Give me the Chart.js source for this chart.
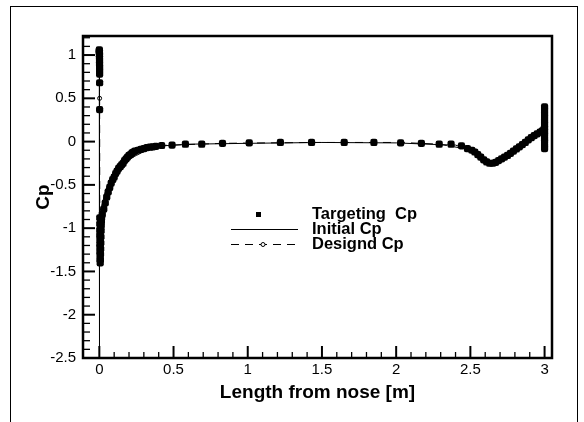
<!DOCTYPE html>
<html>
<head>
<meta charset="utf-8">
<script src="https://cdn.jsdelivr.net/npm/chart.js@4.4.1/dist/chart.umd.min.js"></script>
<style>
html,body{margin:0;padding:0;background:#fff;overflow:hidden}
#wrap{position:relative;width:584px;height:422px}
#frame{position:absolute;left:10px;top:6px;width:568px;height:440px;border:1.5px solid #000;box-sizing:border-box}
canvas{position:absolute;left:0;top:0}
</style>
</head>
<body>
<div id="wrap"><div id="frame"></div><canvas id="cpChart" width="584" height="422"></canvas></div>
<script>
// tick labels
const xTicks = [0, 0.5, 1, 1.5, 2, 2.5, 3];
const yTicks = [-2.5, -2, -1.5, -1, -0.5, 0, 0.5, 1];

// Targeting Cp (square markers)
const targetX = [
0.000,0.000,0.0005,0.0005,0.001,0.001,0.001,0.0015,0.0015,0.002,0.002,0.002,0.002,0.002,
0.003,0.003,0.003,0.003,0.004,0.004,0.004,0.004,0.005,0.005,0.006,0.007,0.008,0.009,0.010,0.011,0.012,0.013,0.014,0.015,
0.02,0.03,0.04,0.05,0.06,0.07,0.08,0.09,0.10,0.11,0.12,0.13,0.14,0.15,0.16,0.17,0.18,0.19,0.20,0.21,0.22,0.23,0.24,0.26,0.28,0.30,0.32,0.34,0.36,0.38,
0.42,0.49,0.58,0.69,0.83,1.01,1.22,1.43,1.65,1.85,2.03,2.17,2.29,
2.37,2.44,2.48,2.51,2.53,2.55,2.57,2.59,2.61,2.63,2.65,2.67,2.69,2.71,2.73,2.75,2.77,2.79,2.81,2.83,2.85,2.87,2.89,2.91,2.93,2.95,2.97,2.985,2.995,
3.0,3.0,3.0,3.0,3.0,3.0,3.0,3.0,3.0,3.0,3.0,3.0,3.0
];
const targetCp = [
1.06,1.05,1.04,1.03,1.02,1.00,0.97,0.94,0.90,0.86,0.82,0.78,0.68,0.37,
-0.88,-0.95,-1.02,-1.08,-1.13,-1.18,-1.22,-1.27,-1.31,-1.36,-1.40,-1.36,-1.30,-1.24,-1.17,-1.10,-1.03,-0.97,-0.92,-0.88,
-0.84,-0.78,-0.71,-0.64,-0.58,-0.53,-0.48,-0.44,-0.41,-0.37,-0.34,-0.31,-0.29,-0.27,-0.25,-0.22,-0.20,-0.18,-0.16,-0.15,-0.13,-0.12,-0.11,-0.10,-0.09,-0.08,-0.07,-0.065,-0.06,-0.055,
-0.045,-0.04,-0.03,-0.03,-0.02,-0.015,-0.01,-0.01,-0.01,-0.01,-0.015,-0.02,-0.03,
-0.03,-0.05,-0.08,-0.10,-0.12,-0.15,-0.18,-0.21,-0.235,-0.25,-0.25,-0.24,-0.22,-0.20,-0.18,-0.16,-0.135,-0.11,-0.085,-0.06,-0.035,-0.01,0.02,0.045,0.07,0.09,0.11,0.125,0.14,
0.40,0.36,0.32,0.28,0.24,0.20,0.16,0.12,0.08,0.04,0.00,-0.04,-0.08
];

// Initial Cp (thin solid line)
const initialX = [0.000,0.000,0.0005,0.001,0.001,0.003,0.005,0.02,0.04,0.07,0.10,0.13,0.17,0.20,0.25,0.30,0.36,0.42,0.6,1.0,1.5,2.0,2.29,2.4,2.5,2.6,2.63,2.7,2.8,2.9,3.0];
const initialCp = [1.00,0.50,0.00,-1.00,-2.37,-1.50,-0.80,-0.72,-0.58,-0.45,-0.36,-0.29,-0.23,-0.20,-0.16,-0.115,-0.07,-0.05,-0.03,-0.02,-0.01,-0.015,-0.035,-0.04,-0.10,-0.22,-0.25,-0.22,-0.10,0.03,0.14];

// Designd Cp (dashed line with open circles)
const designX = [0.000,0.002,0.003,0.005,0.010,0.02,0.05,0.10,0.15,0.20,0.30,0.42,0.83,1.43,2.03,2.29,2.49,2.63,2.75,2.87,3.0];
const designCp = [1.00,0.50,-0.90,-1.38,-1.10,-0.84,-0.64,-0.41,-0.27,-0.16,-0.08,-0.045,-0.02,-0.01,-0.01,-0.03,-0.09,-0.25,-0.16,-0.01,0.14];

const toPts = (xs, ys) => xs.map((v, i) => ({ x: v, y: ys[i] }));

const tickFont = { family: "'Liberation Sans', Arial, sans-serif", size: 15 };
const titleFont = { family: "'Liberation Sans', Arial, sans-serif", size: 19, weight: "bold" };

const frameTicks = {
  id: "frameTicks",
  afterDatasetsDraw(chart) {
    const { ctx, chartArea: a, scales: { x, y } } = chart;
    ctx.save();
    ctx.strokeStyle = "#000";
    // y ticks, inward
    for (let i = 0; i < yTicks.length; i++) {
      const v = yTicks[i];
      ctx.lineWidth = 2;
      let py = y.getPixelForValue(v);
      ctx.beginPath(); ctx.moveTo(a.left, py); ctx.lineTo(a.left + 12, py); ctx.stroke();
      ctx.lineWidth = 1.3;
      for (let k = 1; k < 5; k++) {
        const mv = v + k * 0.1;
        if (mv > y.max) break;
        py = y.getPixelForValue(mv);
        ctx.beginPath(); ctx.moveTo(a.left, py); ctx.lineTo(a.left + 7, py); ctx.stroke();
      }
    }
    // x ticks, inward
    for (let i = 0; i < xTicks.length; i++) {
      const v = xTicks[i];
      ctx.lineWidth = 2;
      let px = x.getPixelForValue(v);
      ctx.beginPath(); ctx.moveTo(px, a.bottom); ctx.lineTo(px, a.bottom - 12); ctx.stroke();
      ctx.lineWidth = 1.3;
      for (let k = 1; k < 5; k++) {
        const mv = v + k * 0.1;
        if (mv > x.max) break;
        px = x.getPixelForValue(mv);
        ctx.beginPath(); ctx.moveTo(px, a.bottom); ctx.lineTo(px, a.bottom - 6); ctx.stroke();
      }
    }
    ctx.lineWidth = 2.5;
    ctx.strokeRect(a.left, a.top, a.right - a.left, a.bottom - a.top);
    ctx.restore();
  },
  afterDraw(chart) {
    const ctx = chart.ctx;
    ctx.save();
    ctx.fillStyle = "#000";
    ctx.strokeStyle = "#000";
    ctx.font = "bold 16.5px 'Liberation Sans', Arial, sans-serif";
    ctx.textBaseline = "middle";
    ctx.textAlign = "left";
    // Targeting
    ctx.fillRect(256, 212, 5, 5);
    ctx.fillText("Targeting  Cp", 312, 214);
    // Initial
    ctx.lineWidth = 1;
    ctx.beginPath(); ctx.moveTo(231, 229.5); ctx.lineTo(298, 229.5); ctx.stroke();
    ctx.fillText("Initial Cp", 312, 229);
    // Designd
    ctx.setLineDash([8, 6]);
    ctx.beginPath(); ctx.moveTo(231, 244.5); ctx.lineTo(298, 244.5); ctx.stroke();
    ctx.setLineDash([]);
    ctx.fillStyle = "#fff";
    ctx.beginPath(); ctx.arc(263, 244.5, 2, 0, Math.PI * 2); ctx.fill(); ctx.stroke();
    ctx.fillStyle = "#000";
    ctx.fillText("Designd Cp", 312, 244);
    ctx.restore();
  }
};

new Chart(document.getElementById("cpChart"), {
  type: "scatter",
  data: {
    datasets: [
      {
        label: "Targeting  Cp",
        data: toPts(targetX, targetCp),
        showLine: false,
        pointStyle: "rectRounded",
        pointRadius: 4.2,
        backgroundColor: "#000",
        borderColor: "#000",
        borderWidth: 0
      },
      {
        label: "Initial Cp",
        data: toPts(initialX, initialCp),
        showLine: true,
        borderColor: "#000",
        borderWidth: 1,
        pointRadius: 0,
        tension: 0
      },
      {
        label: "Designd Cp",
        data: toPts(designX, designCp),
        showLine: true,
        borderColor: "#000",
        borderWidth: 1,
        borderDash: [8, 6],
        pointRadius: 2,
        pointBackgroundColor: "#fff",
        pointBorderColor: "#000",
        pointBorderWidth: 1
      }
    ]
  },
  options: {
    responsive: false,
    animation: false,
    devicePixelRatio: 1,
    layout: { padding: { top: 36, right: 32, left: 0, bottom: 0 } },
    plugins: { legend: { display: false }, tooltip: { enabled: false } },
    scales: {
      x: {
        type: "linear",
        min: -0.11,
        max: 3.05,
        afterBuildTicks: s => { s.ticks = xTicks.map(v => ({ value: v })); },
        afterFit: s => { s.height = 64; },
        grid: { display: false, drawTicks: false },
        border: { display: false },
        ticks: { color: "#000", font: tickFont, padding: 3, maxRotation: 0, autoSkip: false, callback: v => String(v) },
        title: { display: true, text: "Length from nose [m]", color: "#000", font: titleFont, padding: { top: 0, bottom: 17.6 } }
      },
      y: {
        type: "linear",
        min: -2.5,
        max: 1.22,
        afterBuildTicks: s => { s.ticks = yTicks.map(v => ({ value: v })); },
        afterFit: s => { s.width = 83; },
        grid: { display: false, drawTicks: false },
        border: { display: false },
        ticks: { color: "#000", font: tickFont, padding: 7, autoSkip: false, callback: v => String(v) },
        title: { display: true, text: "Cp", color: "#000", font: titleFont, padding: { top: 32, bottom: 0 } }
      }
    }
  },
  plugins: [frameTicks]
});
</script>
</body>
</html>
